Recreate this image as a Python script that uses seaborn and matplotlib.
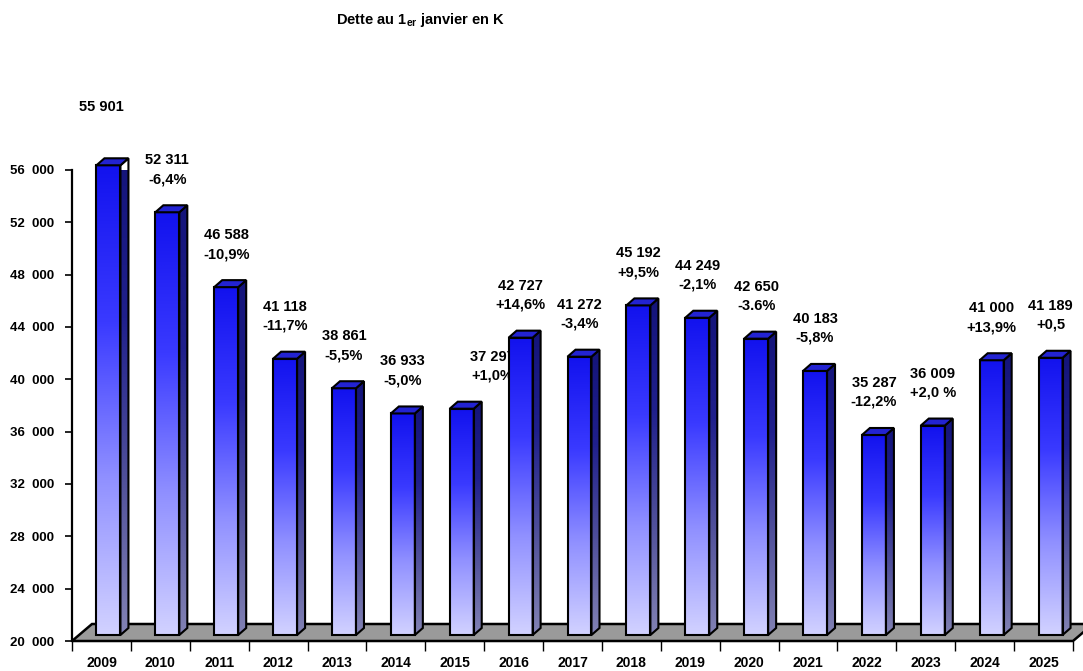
import numpy as np
import matplotlib
matplotlib.use("Agg")
import matplotlib.pyplot as plt
from matplotlib.patches import Polygon
from matplotlib.colors import LinearSegmentedColormap
import seaborn as sns

# Debt at 1 January, in thousands
years = ["2009", "2010", "2011", "2012", "2013", "2014", "2015", "2016", "2017",
         "2018", "2019", "2020", "2021", "2022", "2023", "2024", "2025"]
debt = [55901, 52311, 46588, 41118, 38861, 36933, 37297, 42727, 41272,
        45192, 44249, 42650, 40183, 35287, 36009, 41000, 41189]
change = ["", "-6,4%", "-10,9%", "-11,7%", "-5,5%", "-5,0%", "+1,0%", "+14,6%", "-3,4%",
          "+9,5%", "-2,1%", "-3.6%", "-5,8%", "-12,2%", "+2,0 %", "+13,9%", "+0,5"]
y_ticks = list(range(20000, 56001, 4000))

# label nudges in pixels (dx, dy) for a few labels
label_nudge = {"2009": (-7, 6), "2015": (31, 0)}

sns.set_theme(style="white")
plt.rcParams["font.family"] = ["Liberation Sans", "DejaVu Sans"]
plt.rcParams["mathtext.fontset"] = "custom"
plt.rcParams["mathtext.rm"] = "Liberation Sans:bold"
plt.rcParams["mathtext.bf"] = "Liberation Sans:bold"
plt.rcParams["text.color"] = "black"

W, H, DPI = 1083, 671, 100
fig = plt.figure(figsize=(W / DPI, H / DPI), dpi=DPI)
ax_l, ax_r, ax_b, ax_t = 72, 1073, 641, 170
ax = fig.add_axes([ax_l / W, (H - ax_b) / H, (ax_r - ax_l) / W, (ax_b - ax_t) / H])

n = len(years)
ymin, ymax = 20000, 56000
xlim = (-0.5, n - 0.5)
px_x = (ax_r - ax_l) / (xlim[1] - xlim[0])   # pixels per category unit
px_y = (ax_b - ax_t) / (ymax - ymin)          # pixels per data unit

bar_w = 24 / px_x
bar_shift = 7 / px_x
lift = 6 / px_y            # front face raised above the floor edge
dep_x, dep_y = 8 / px_x, 7 / px_y          # bar depth
floor_x, floor_y = 20 / px_x, 17 / px_y    # floor depth

sns.barplot(x=years, y=debt, width=bar_w, color="#2020e0", ax=ax, zorder=4)
ax.set_xlim(*xlim)
ax.set_ylim(ymin, ymax)

front_cmap = LinearSegmentedColormap.from_list(
    "front", ["#d2d2ff", "#9090ff", "#3a3aff", "#1212ee"])
side_cmap = LinearSegmentedColormap.from_list(
    "side", ["#8282b4", "#50509a", "#20208c", "#14147a"])
grad = np.linspace(0, 1, 256).reshape(-1, 1)

# floor
floor = Polygon([(xlim[0], ymin), (xlim[1], ymin), (xlim[1] + floor_x, ymin + floor_y),
                 (xlim[0] + floor_x, ymin + floor_y)], closed=True,
                facecolor="#9a9a9a", edgecolor="black", lw=1.8, zorder=2, clip_on=False)
ax.add_patch(floor)

for patch, val in zip(ax.patches[:n], debt):
    x0 = patch.get_x() + bar_shift
    x1 = x0 + bar_w
    y0 = ymin + lift
    y1 = val + lift
    patch.set_x(x0)
    patch.set_y(y0)
    patch.set_height(val - ymin)
    patch.set_facecolor("none")
    patch.set_edgecolor("black")
    patch.set_linewidth(1.5)
    patch.set_clip_on(False)
    patch.set_zorder(5)

    im = ax.imshow(grad, extent=[x0, x1, y0, y1], origin="lower", aspect="auto",
                   cmap=front_cmap, zorder=4, interpolation="bilinear")
    im.set_clip_path(patch)

    side = Polygon([(x1, y0), (x1 + dep_x, y0 + dep_y), (x1 + dep_x, y1 + dep_y), (x1, y1)],
                   closed=True, facecolor="none", edgecolor="black", lw=1.5,
                   zorder=5, clip_on=False)
    ax.add_patch(side)
    ims = ax.imshow(grad, extent=[x1, x1 + dep_x, y0, y1 + dep_y], origin="lower",
                    aspect="auto", cmap=side_cmap, zorder=4, interpolation="bilinear")
    ims.set_clip_path(side)

    top = Polygon([(x0, y1), (x1, y1), (x1 + dep_x, y1 + dep_y), (x0 + dep_x, y1 + dep_y)],
                  closed=True, facecolor="#2323d2", edgecolor="black", lw=1.5,
                  zorder=5, clip_on=False)
    ax.add_patch(top)

ax.set_xlim(*xlim)
ax.set_ylim(ymin, ymax)

# value and change labels (kept behind the bars)
pt = 72 / DPI
for i, (yr, val, pct) in enumerate(zip(years, debt, change)):
    cx = i + bar_shift
    ndx, ndy = label_nudge.get(yr, (0, 0))
    ax.annotate(f"{val:,}".replace(",", " "), xy=(cx, val),
                xytext=(ndx * pt, (58 + ndy) * pt), textcoords="offset points",
                ha="center", va="center", fontsize=10.5, fontweight="bold",
                color="black", annotation_clip=False, zorder=3)
    if pct:
        ax.annotate(pct, xy=(cx, val),
                    xytext=(ndx * pt, (39 + ndy) * pt), textcoords="offset points",
                    ha="center", va="center", fontsize=10.5, fontweight="bold",
                    color="black", annotation_clip=False, zorder=3)

# axes styling
for s in ["top", "right", "bottom"]:
    ax.spines[s].set_visible(False)
ax.spines["left"].set_color("black")
ax.spines["left"].set_linewidth(1.6)
ax.spines["left"].set_zorder(6)

ax.set_yticks(y_ticks)
ax.set_yticklabels([f"{t // 1000}  000" for t in y_ticks], fontsize=9.5, fontweight="bold")
ax.tick_params(axis="y", which="major", left=True, length=5, width=1.2,
               color="black", pad=8, labelcolor="black")
ax.set_xticks(range(n))
ax.set_xticklabels(years, fontsize=10, fontweight="bold")
ax.set_xticks(np.arange(-0.5, n, 1.0), minor=True)
ax.tick_params(axis="x", which="major", bottom=False, length=0, pad=11, labelcolor="black")
ax.tick_params(axis="x", which="minor", bottom=True, length=7, width=1.0, color="black")
ax.set_xlabel("")
ax.set_ylabel("")
ax.grid(False)

fig.text(421 / W, 1 - 20 / H, r"Dette au 1$_{\mathrm{er}}$ janvier en K",
         ha="center", va="center", fontsize=10.5, fontweight="bold", color="black")

fig.savefig("out.png", dpi=DPI)
